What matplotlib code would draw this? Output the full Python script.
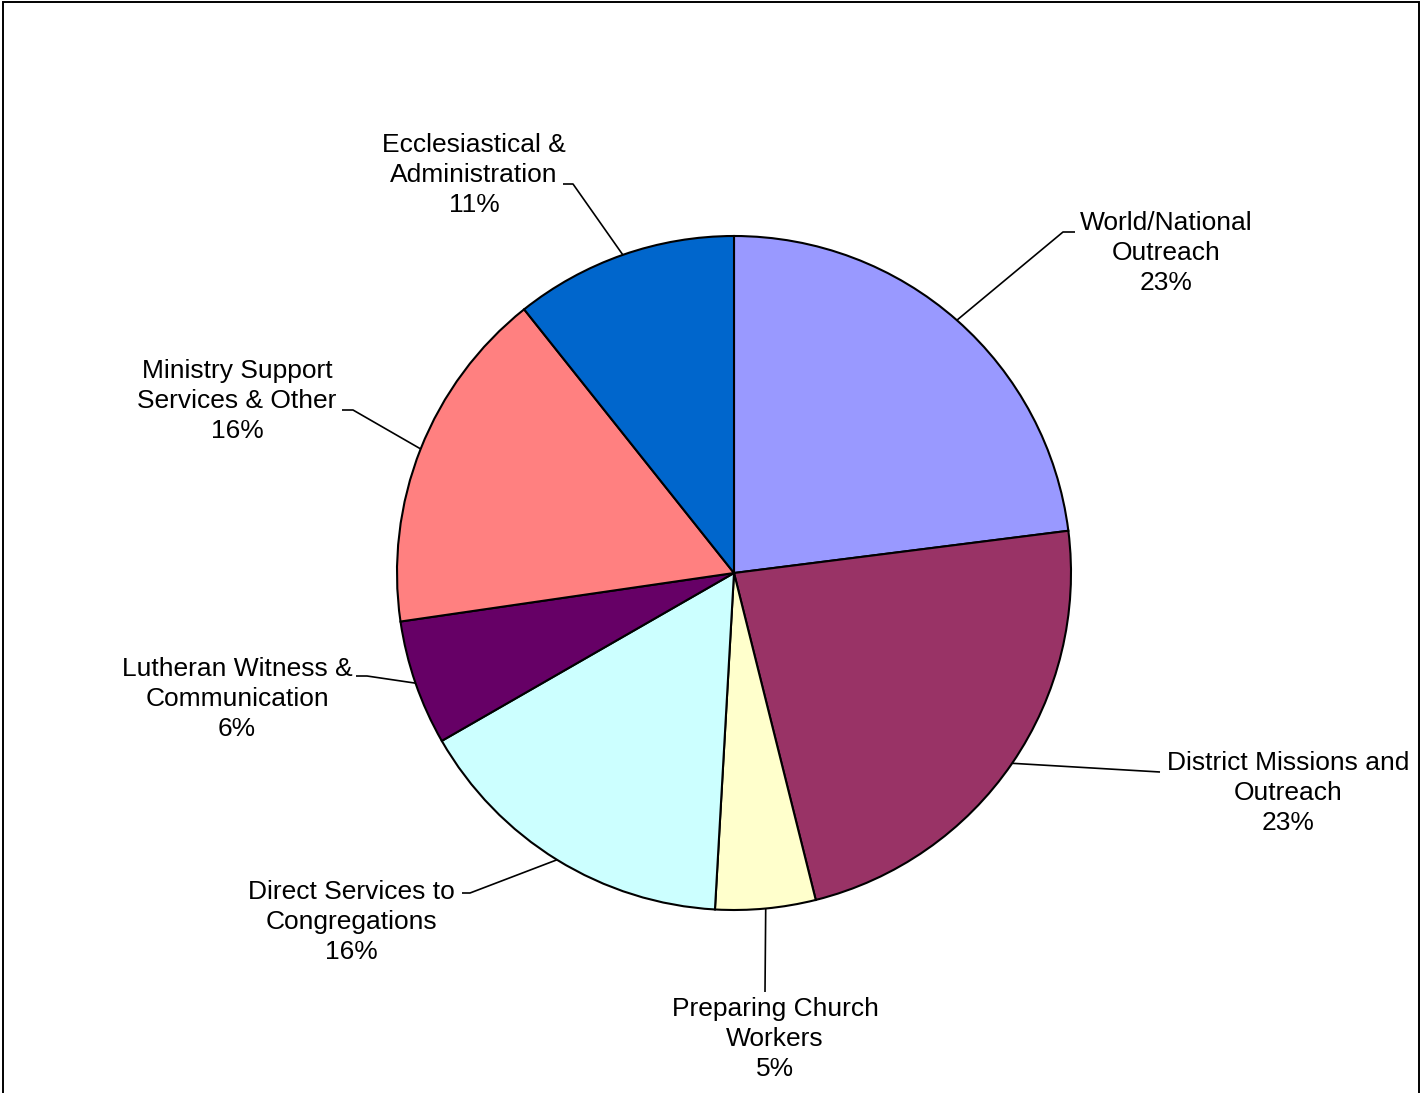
import numpy as np
import matplotlib
matplotlib.use("Agg")
import matplotlib.pyplot as plt
from matplotlib.patches import Rectangle

plt.rcParams['font.family'] = ['Liberation Sans', 'DejaVu Sans']

# ---- data ----
categories = [
    "World/National\nOutreach",
    "District Missions and\nOutreach",
    "Preparing Church\nWorkers",
    "Direct Services to\nCongregations",
    "Lutheran Witness &\nCommunication",
    "Ministry Support\nServices & Other",
    "Ecclesiastical &\nAdministration",
]
values = [23.0, 23.1, 4.8, 15.8, 6.0, 16.6, 10.7]
pct_labels = ["23%", "23%", "5%", "16%", "6%", "16%", "11%"]
colors = ["#9999FF", "#993366", "#FFFFCC", "#CCFFFF", "#660066", "#FF8080", "#0066CC"]

# ---- layout (pixel coordinates, y measured from top) ----
W, H = 1422, 1093
center_px = (734, 573)
radius_px = 337
label_pos = [(1166, 253), (1288, 793), (775, 1039), (351, 922),
             (237, 699), (237, 401), (474, 175)]
leader_pts = [
    [(1063, 232), (1075, 232)],
    [(1160, 772)],
    [(765, 992)],
    [(470, 893), (462, 893)],
    [(367, 676), (356, 676)],
    [(353, 410), (342, 410)],
    [(573, 184), (563, 184)],
]

fig = plt.figure(figsize=(W / 100, H / 100), dpi=100)
ax = fig.add_axes([0, 0, 1, 1])

cx, cy = center_px[0], H - center_px[1]
wedges, _ = ax.pie(values, colors=colors, startangle=90, counterclock=False,
                   center=(cx, cy), radius=radius_px, frame=True,
                   wedgeprops=dict(edgecolor='black', linewidth=1.5))
ax.set_xlim(0, W)
ax.set_ylim(0, H)
ax.set_aspect('equal')
ax.axis('off')

for w, lab, pct, pos, pts in zip(wedges, categories, pct_labels, label_pos, leader_pts):
    mid = np.deg2rad((w.theta1 + w.theta2) / 2)
    sx = cx + radius_px * np.cos(mid)
    sy = cy + radius_px * np.sin(mid)
    xs = [sx] + [p[0] for p in pts]
    ys = [sy] + [H - p[1] for p in pts]
    ax.plot(xs, ys, color='black', linewidth=1.2, solid_capstyle='butt')
    ax.text(pos[0], H - pos[1], lab + "\n" + pct, ha='center', va='center',
            fontsize=19, linespacing=1.3, color='black')

ax.add_patch(Rectangle((3, -20), 1416, H - 2 + 20, fill=False,
                       edgecolor='black', linewidth=1.4, clip_on=False))

fig.savefig("out.png", dpi=100)
